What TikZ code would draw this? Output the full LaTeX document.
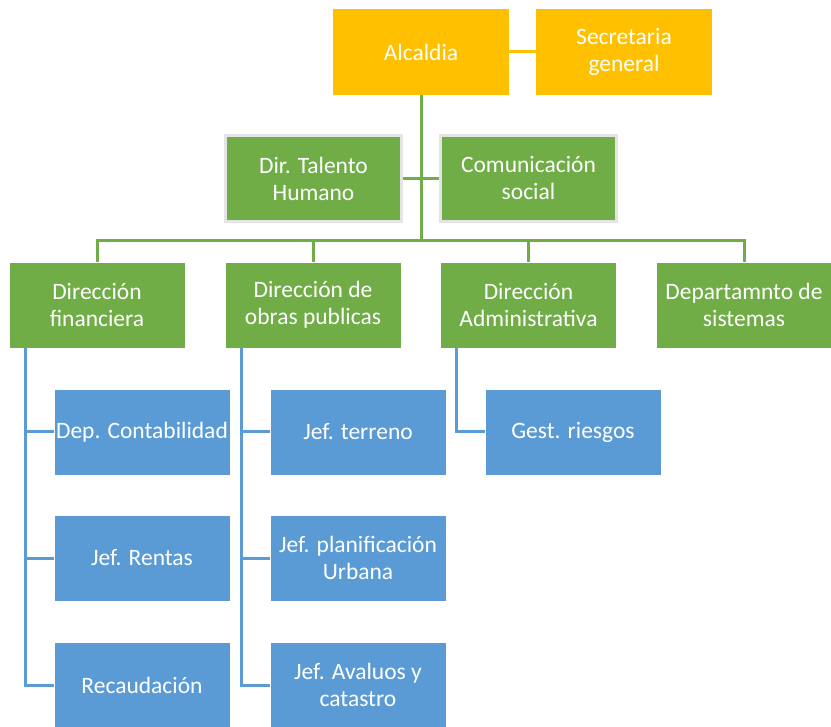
\documentclass[tikz,border=0pt]{standalone}
\usepackage{fontspec}
\setmainfont{Carlito}
\definecolor{cy}{HTML}{FFC000}
\definecolor{cg}{HTML}{70AD47}
\definecolor{cb}{HTML}{5B9BD5}
\definecolor{cgray}{HTML}{E4E4E4}
\begin{document}
\begin{tikzpicture}[x=1pt,y=-1pt,
  box/.style={rectangle, minimum width=176pt, minimum height=86pt, inner sep=0pt,
    align=center, text=white, font=\fontsize{23.5}{27}\selectfont},
  ybox/.style={box, fill=cy},
  gbox/.style={box, fill=cg, draw=white, line width=0.8pt},
  sbox/.style={box, fill=cg, draw=cgray, line width=2.2pt},
  bbox/.style={box, fill=cb, draw=white, line width=0.8pt},
  yline/.style={draw=cy, line width=3pt},
  gline/.style={draw=cg, line width=3pt},
  bline/.style={draw=cb, line width=3pt}]
\useasboundingbox (0,0) rectangle (831,727);
\fill[white] (0,0) rectangle (831,727);

% top
\node[ybox] (alc) at (421,52) {Alcaldia};
\node[ybox] (sec) at (624,52) {Secretaria\\general};
\node[sbox] (tal) at (313.5,178.5) {Dir. Talento\\Humano};
\node[sbox] (com) at (528.5,178.5) {Comunicación\\social};

% level 2
\node[gbox] (fin) at (97,305) {Dirección\\financiera};
\node[gbox] (obr) at (313,305) {Dirección de\\obras publicas};
\node[gbox] (adm) at (528.5,305) {Dirección\\Administrativa};
\node[gbox] (sis) at (744,305) {Departamnto de\\sistemas};

% level 3
\node[bbox] (cont) at (142,432) {Dep. Contabilidad};
\node[bbox] (rent) at (142,558) {Jef. Rentas};
\node[bbox] (reca) at (142,685) {Recaudación};
\node[bbox] (terr) at (358,432) {Jef. terreno};
\node[bbox] (plan) at (358,558) {Jef. planificación\\Urbana};
\node[bbox] (aval) at (358,685) {Jef. Avaluos y\\catastro};
\node[bbox] (gest) at (573,432) {Gest. riesgos};

% connectors
\coordinate (bus) at (421,241);
\draw[yline] (alc.east) -- (sec.west);
\draw[gline] (alc.south) -- (bus);
\draw[gline] (tal.east) -- (com.west);
\draw[gline] (fin.north) |- (bus) -| (sis.north);
\draw[gline] (obr.north) -- (obr.north |- bus);
\draw[gline] (adm.north) -- (adm.north |- bus);

\draw[bline] ([xshift=17pt]fin.south west) |- (cont.west);
\draw[bline] ([xshift=17pt]fin.south west) |- (rent.west);
\draw[bline] ([xshift=17pt]fin.south west) |- (reca.west);
\draw[bline] ([xshift=17pt]obr.south west) |- (terr.west);
\draw[bline] ([xshift=17pt]obr.south west) |- (plan.west);
\draw[bline] ([xshift=17pt]obr.south west) |- (aval.west);
\draw[bline] ([xshift=16pt]adm.south west) |- (gest.west);
\end{tikzpicture}
\end{document}
